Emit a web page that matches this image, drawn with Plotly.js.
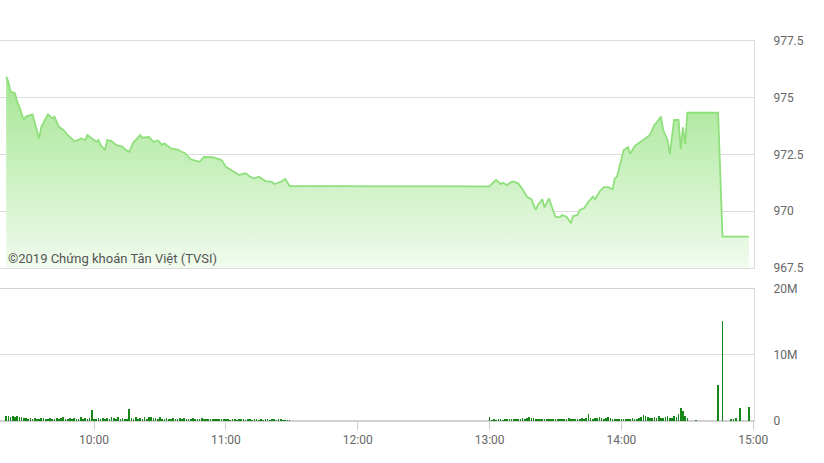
<!DOCTYPE html>
<html><head><meta charset="utf-8">
<script src="https://cdn.plot.ly/plotly-3.0.1.min.js"></script>
<style>html,body{margin:0;padding:0;background:#fff}#chart{width:824px;height:463px}</style>
</head><body><div id="chart"></div>
<script>
const DAY = "2019-01-02 ";

// Price (VN-Index intraday)
const priceTimes = [
 "09:20","09:21","09:22","09:24","09:25","09:26","09:28","09:29","09:32","09:33",
 "09:35","09:36","09:38","09:39","09:41","09:42","09:44","09:46","09:48","09:51",
 "09:53","09:54","09:56","09:57","09:59","10:01","10:02","10:03","10:05","10:06",
 "10:08","10:10","10:13","10:14","10:16","10:18","10:19","10:21","10:22","10:25",
 "10:27","10:29","10:31","10:32","10:35","10:38","10:40","10:41","10:44","10:46",
 "10:48","10:50","10:54","10:57","10:58","11:00","11:02","11:04","11:06","11:09",
 "11:11","11:13","11:15","11:18","11:21","11:22","11:25","11:27","11:29","11:30",
 "13:00","13:02","13:03","13:05","13:06","13:08","13:10","13:11","13:13","13:15",
 "13:17","13:19","13:21","13:22","13:24","13:25","13:27","13:28","13:30","13:32",
 "13:33","13:35","13:37","13:38","13:40","13:41","13:43","13:45","13:47","13:48",
 "13:50","13:52","13:54","13:56","13:57","13:58","14:00","14:01","14:03","14:04",
 "14:06","14:08","14:10","14:13","14:15","14:16","14:18","14:19","14:21","14:22",
 "14:24","14:26","14:27","14:28","14:29","14:30","14:44","14:46","14:58"
];
const priceValues = [
 975.93,975.71,975.27,975.20,974.83,974.61,974.02,974.17,974.27,973.87,
 973.21,973.72,974.09,974.27,974.09,974.17,973.72,973.58,973.36,973.09,
 973.14,973.21,973.14,973.36,973.21,973.06,973.14,972.92,972.70,973.14,
 973.09,972.92,972.84,972.73,972.62,973.06,973.14,973.36,973.24,973.27,
 973.06,973.12,972.92,972.99,972.77,972.72,972.61,972.59,972.29,972.24,
 972.18,972.39,972.38,972.29,972.26,971.96,971.85,971.74,971.60,971.67,
 971.52,971.45,971.52,971.33,971.30,971.20,971.30,971.42,971.11,971.11,
 971.10,971.30,971.38,971.20,971.26,971.16,971.30,971.30,971.23,970.97,
 970.64,970.53,970.06,970.28,970.53,970.17,970.57,970.28,969.76,969.73,
 969.83,969.76,969.47,969.79,969.83,970.06,970.13,970.42,970.64,970.53,
 970.86,971.06,971.06,970.97,971.45,971.52,972.26,972.70,972.82,972.52,
 972.87,973.02,973.17,973.36,973.80,973.90,974.17,973.58,973.14,972.52,
 974.02,974.02,972.73,973.70,972.96,974.34,974.34,968.88,968.88
];

// Volume (millions of shares), one bar per minute
const volMorningStart = "09:20";
const volMorning = [
 0.70,0.75,0.60,0.70,0.65,0.70,0.55,0.60,0.50,0.45,
 0.35,0.40,0.30,0.45,0.35,0.30,0.40,0.50,0.35,0.30,
 0.45,0.30,0.35,0.50,0.30,0.40,0.55,0.30,0.35,0.45,
 0.30,0.50,0.35,0.30,0.60,0.35,0.40,0.30,0.45,1.60,
 0.30,0.35,0.40,0.30,0.45,0.35,0.50,0.30,0.55,0.40,
 0.35,0.60,0.30,0.45,0.35,0.30,1.75,0.40,0.35,0.60,
 0.30,0.50,0.35,0.55,0.30,0.55,0.60,0.45,0.50,0.30,
 0.55,0.35,0.30,0.40,0.30,0.35,0.45,0.30,0.35,0.40,
 0.30,0.45,0.30,0.35,0.25,0.40,0.30,0.35,0.30,0.40,
 0.25,0.30,0.35,0.30,0.25,0.35,0.30,0.25,0.30,0.35,
 0.25,0.30,0.20,0.30,0.25,0.20,0.30,0.25,0.30,0.20,
 0.25,0.30,0.20,0.25,0.30,0.20,0.25,0.20,0.30,0.25,
 0.20,0.25,0.30,0.20,0.25,0.30,0.20,0.15,0.20,0.10
];
const volAfternoonStart = "13:00";
const volAfternoon = [
 0.65,0.20,0.25,0.20,0.30,0.25,0.20,0.30,0.35,0.25,
 0.30,0.25,0.35,0.30,0.25,0.40,0.30,0.45,0.55,0.40,
 0.50,0.30,0.35,0.30,0.25,0.30,0.35,0.30,0.25,0.30,
 0.30,0.35,0.25,0.30,0.35,0.30,0.40,0.35,0.30,0.35,
 0.30,0.35,0.40,0.30,0.45,1.00,0.40,0.35,0.50,0.45,
 0.55,0.40,0.35,0.45,0.60,0.50,0.35,0.30,0.25,0.35,
 0.30,0.25,0.30,0.35,0.30,0.40,0.35,0.30,0.40,0.60,
 0.90,0.70,0.55,0.50,0.45,0.60,0.40,0.75,0.50,0.45,
 0.55,0.70,0.50,0.45,0.80,0.60,1.10,1.90,1.50,0.70,
 0.40
];
const volLateTimes = ["14:34","14:44","14:46","14:50","14:51","14:52","14:54","14:58"];
const volLate = [0.10,5.50,15.20,0.25,0.30,0.45,1.90,2.10];

// Axis labels
const xTickLabels = ["10:00","11:00","12:00","13:00","14:00","15:00"];
const priceTicks = [967.5,970,972.5,975,977.5];
const priceTickText = ["967.5","970","972.5","975","977.5"];
const volTicks = [0,10,20];
const volTickText = ["0","10M","20M"];
const copyright = "©2019 Chứng khoán Tân Việt (TVSI)";

function addMinutes(start, n){
  const [h,m] = start.split(":").map(Number);
  const t = h*60+m+n;
  return String(Math.floor(t/60)).padStart(2,"0")+":"+String(t%60).padStart(2,"0");
}
const volTimes = [], volVals = [];
volMorning.forEach((v,i)=>{volTimes.push(addMinutes(volMorningStart,i)); volVals.push(v);});
volAfternoon.forEach((v,i)=>{volTimes.push(addMinutes(volAfternoonStart,i)); volVals.push(v);});
volLateTimes.forEach((t,i)=>{volTimes.push(t); volVals.push(volLate[i]);});

const priceTrace = {
  type:"scatter", mode:"lines",
  x: priceTimes.map(t=>DAY+t), y: priceValues,
  xaxis:"x", yaxis:"y",
  line:{color:"#8fe07c", width:1.8},
  fill:"tozeroy",
  fillgradient:{type:"vertical", start:967.5, stop:976,
    colorscale:[[0,"#f1fbee"],[1,"#a4e692"]]},
  hoverinfo:"skip"
};
const volTrace = {
  type:"bar",
  x: volTimes.map(t=>DAY+t), y: volVals.map(v=>v*1e6),
  xaxis:"x2", yaxis:"y2",
  marker:{color:"#17861a", line:{width:0}},
  width: 45000,
  hoverinfo:"skip"
};

const grid = "#dcdcdc";
const layout = {
  width:824, height:463,
  margin:{l:0, r:70, t:41, b:42},
  paper_bgcolor:"#fff", plot_bgcolor:"#fff",
  showlegend:false, bargap:0,
  font:{family:"Roboto, 'Open Sans', sans-serif", size:12, color:"#666"},
  xaxis:{anchor:"y", matches:"x2", type:"date", showticklabels:false, showgrid:false,
    showline:true, mirror:true, linecolor:grid, linewidth:1, ticks:"", zeroline:false},
  yaxis:{domain:[0.4026,1], anchor:"x", side:"right", range:[967.5,977.5],
    tickvals:priceTicks, ticktext:priceTickText, showgrid:true, gridcolor:grid,
    showline:true, linecolor:grid, zeroline:false, ticks:"", ticklabelstandoff:16},
  xaxis2:{anchor:"y2", type:"date", range:[DAY+"09:17:12", DAY+"15:00:20"],
    tickvals:xTickLabels.map(t=>DAY+t), ticktext:xTickLabels,
    ticks:"outside", ticklen:8, tickcolor:"#cfcfcf", showgrid:false,
    showline:true, mirror:true, linecolor:"#d2d2d2", linewidth:1, zeroline:false},
  yaxis2:{domain:[0,0.3474], anchor:"x2", side:"right", range:[0,2e7],
    tickvals:volTicks.map(v=>v*1e6), ticktext:volTickText, showgrid:true, gridcolor:grid,
    showline:true, linecolor:grid, zeroline:true, zerolinecolor:"#cfcfcf", zerolinewidth:2,
    ticks:"", ticklabelstandoff:16},
  annotations:[{text:copyright, xref:"paper", yref:"paper", x:6/754, y:(421-258)/380,
    xanchor:"left", yanchor:"middle", showarrow:false,
    font:{family:"Roboto, sans-serif", size:13, color:"#555"}}]
};
Plotly.newPlot("chart", [priceTrace, volTrace], layout, {staticPlot:true, displayModeBar:false});
</script></body></html>
